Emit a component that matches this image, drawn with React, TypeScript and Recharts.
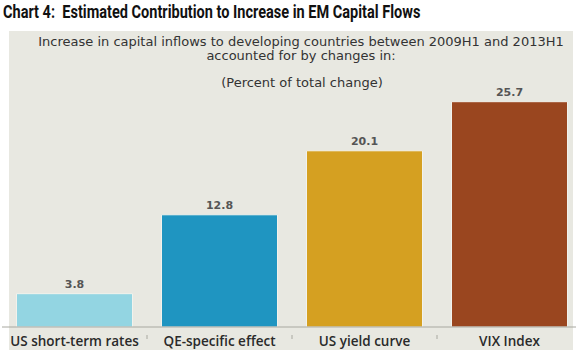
import { BarChart, Bar, XAxis, YAxis, Cell, LabelList } from 'recharts';

const categories = ['US short-term rates', 'QE-specific effect', 'US yield curve', 'VIX Index'];
const contributions = [3.8, 12.8, 20.1, 25.7];
const barColors = ['#93d5e2', '#1f95c1', '#d5a021', '#9a461f'];
const subtitleLines = [
  'Increase in capital inflows to developing countries between 2009H1 and 2013H1',
  'accounted for by changes in:',
];
const unitsLine = '(Percent of total change)';

const data = categories.map((name, i) => ({ name, value: contributions[i] }));

const CHART_W = 582;
const MARGIN_L = 2;
const BAND = (CHART_W - MARGIN_L) / categories.length;

function CategoryTick(props: any) {
  const { x, y, payload, index } = props;
  return (
    <g>
      {index > 0 && <line x1={x - BAND / 2} x2={x - BAND / 2} y1={y} y2={y + 4} stroke="#a8a8a0" />}
      <text x={x} y={y + 11} textAnchor="middle" fill="#2a2a2a" fontSize={13.5} fontWeight={600} fontFamily="'Open Sans', sans-serif">
        {payload.value}
      </text>
    </g>
  );
}

export default function App() {
  return (
    <div style={{ position: 'absolute', left: 0, top: 0, width: 576, height: 353, overflow: 'hidden', background: '#fff' }}>
      <div
        style={{
          position: 'absolute', left: 3, top: 2, fontFamily: "'Roboto', sans-serif", fontWeight: 700, fontSize: 17.5,
          color: '#111', whiteSpace: 'pre', transform: 'scaleX(0.83)', transformOrigin: 'left top',
        }}
      >
        Chart 4:  Estimated Contribution to Increase in EM Capital Flows
      </div>
      <div style={{ position: 'absolute', left: 9, top: 31, width: 564, height: 319, background: '#e8e8e1' }} />
      <div style={{ position: 'absolute', left: 0, top: 0 }}>
        <BarChart
          width={CHART_W}
          height={353}
          data={data}
          margin={{ top: 64, right: 0, left: MARGIN_L, bottom: 0 }}
          barCategoryGap="10%"
        >
          <text x={301} y={46} textAnchor="middle" fill="#333" fontSize={13} fontFamily="'DejaVu Sans', sans-serif">
            {subtitleLines[0]}
          </text>
          <text x={301} y={60} textAnchor="middle" fill="#333" fontSize={13} fontFamily="'DejaVu Sans', sans-serif">
            {subtitleLines[1]}
          </text>
          <text x={302} y={87} textAnchor="middle" fill="#333" fontSize={13} fontFamily="'DejaVu Sans', sans-serif">
            {unitsLine}
          </text>
          <XAxis
            dataKey="name"
            height={26}
            axisLine={{ stroke: '#a8a8a0' }}
            tickLine={false}
            tick={<CategoryTick />}
            interval={0}
          />
          <YAxis hide domain={[0, 30]} />
          <Bar dataKey="value" isAnimationActive={false} stroke="#f2f2ec" strokeWidth={1}>
            {data.map((d, i) => (
              <Cell key={d.name} fill={barColors[i]} />
            ))}
            <LabelList
              dataKey="value"
              position="top"
              offset={6}
              formatter={(v: any) => Number(v).toFixed(1)}
              style={{ fill: '#555', fontSize: 11, fontWeight: 700, fontFamily: "'DejaVu Sans', sans-serif" }}
            />
          </Bar>
        </BarChart>
      </div>
    </div>
  );
}
